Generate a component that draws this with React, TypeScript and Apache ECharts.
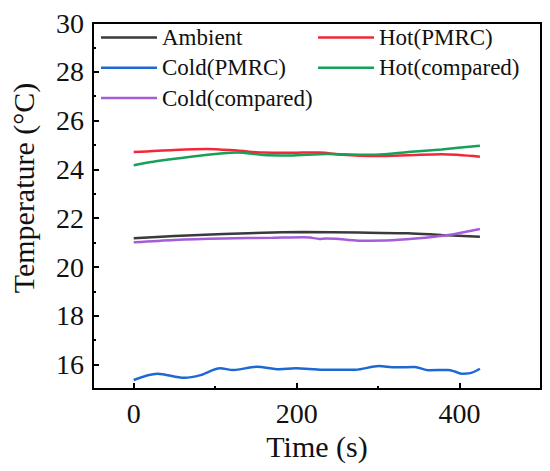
import React, { useEffect, useRef } from "react";
import * as echarts from "echarts";

const xMajorTicks = [0, 200, 400];
const xMinorTicks = [100, 300];
const yMajorTicks = [16, 18, 20, 22, 24, 26, 28, 30];
const yMinorTicks = [17, 19, 21, 23, 25, 27, 29];

const ambientT = [0, 50, 110, 171, 208, 276, 337, 378, 425];
const ambientV = [21.18, 21.27, 21.35, 21.41, 21.43, 21.41, 21.38, 21.31, 21.24];

const hotPmrcT = [0, 50, 90, 127, 159, 191, 208, 228, 256, 297, 337, 378, 425];
const hotPmrcV = [24.71, 24.8, 24.84, 24.77, 24.69, 24.68, 24.69, 24.69, 24.6, 24.55, 24.58, 24.62, 24.52];

const coldPmrcT = [0, 29, 62, 82, 106, 122, 151, 179, 199, 232, 272, 301, 321, 345, 362, 386, 394, 402, 413, 425];
const coldPmrcV = [15.37, 15.63, 15.46, 15.57, 15.85, 15.78, 15.91, 15.81, 15.85, 15.79, 15.79, 15.94, 15.89, 15.9, 15.77, 15.78, 15.72, 15.63, 15.65, 15.83];

const hotCompT = [0, 29, 70, 110, 127, 159, 191, 236, 297, 337, 378, 425];
const hotCompV = [24.17, 24.34, 24.52, 24.66, 24.69, 24.59, 24.57, 24.63, 24.6, 24.71, 24.82, 24.97];

const coldCompT = [0, 50, 110, 171, 208, 216, 228, 236, 248, 276, 317, 358, 386, 425];
const coldCompV = [21.01, 21.11, 21.17, 21.2, 21.22, 21.21, 21.15, 21.17, 21.16, 21.08, 21.1, 21.2, 21.31, 21.56];

const FONT = "Liberation Serif";

const zip = (t: number[], v: number[]) => t.map((x, i) => [x, v[i]]);

export default function App() {
  const ref = useRef<HTMLDivElement>(null);
  useEffect(() => {
    if (!ref.current) return;
    const chart = echarts.init(ref.current, undefined, { renderer: "svg" });
    const mkSeries = (name: string, t: number[], v: number[], color: string) => ({
      name,
      type: "line",
      data: zip(t, v),
      symbol: "none",
      smooth: 0.3,
      lineStyle: { color, width: 2.5 },
      itemStyle: { color },
      xAxisIndex: 0,
      yAxisIndex: 0,
    });
    const legendText = { fontFamily: FONT, fontSize: 23, color: "#111", lineHeight: 22 };
    chart.setOption({
      animation: false,
      backgroundColor: "#fff",
      textStyle: { fontFamily: FONT },
      grid: {
        left: 88,
        right: 9,
        top: 23,
        bottom: 82,
        show: true,
        borderColor: "#000",
        borderWidth: 2,
      },
      legend: [
        {
          left: 101,
          top: 26,
          padding: 0,
          orient: "vertical",
          icon: "rect",
          itemWidth: 56,
          itemHeight: 2.5,
          itemGap: 7.3,
          data: ["Ambient", "Cold(PMRC)", "Cold(compared)"],
          textStyle: legendText,
        },
        {
          left: 318,
          top: 26,
          padding: 0,
          orient: "vertical",
          icon: "rect",
          itemWidth: 56,
          itemHeight: 2.5,
          itemGap: 7.3,
          data: ["Hot(PMRC)", "Hot(compared)"],
          textStyle: legendText,
        },
      ],
      xAxis: [
        {
          type: "value",
          min: -50,
          max: 500,
          position: "bottom",
          name: "Time (s)",
          nameLocation: "middle",
          nameGap: 34,
          nameTextStyle: { fontFamily: FONT, fontSize: 30, color: "#111" },
          axisLine: { show: true, onZero: false, lineStyle: { color: "#000", width: 2 } },
          axisTick: { show: true, inside: true, length: 6, lineStyle: { color: "#000", width: 2 }, customValues: xMajorTicks },
          axisLabel: { show: true, margin: 10, fontFamily: FONT, fontSize: 28, color: "#111", customValues: xMajorTicks },
          splitLine: { show: false },
        },
        {
          type: "value",
          min: -50,
          max: 500,
          position: "bottom",
          axisLine: { show: false, onZero: false },
          axisTick: { show: true, inside: true, length: 3, lineStyle: { color: "#000", width: 2 }, customValues: xMinorTicks },
          axisLabel: { show: false },
          splitLine: { show: false },
        },
      ],
      yAxis: [
        {
          type: "value",
          min: 15,
          max: 30,
          position: "left",
          name: "Temperature (°C)",
          nameLocation: "middle",
          nameGap: 55,
          nameTextStyle: { fontFamily: FONT, fontSize: 30, color: "#111", padding: [0, 0, 0, 36] },
          axisLine: { show: true, onZero: false, lineStyle: { color: "#000", width: 2 } },
          axisTick: { show: true, inside: true, length: 6, lineStyle: { color: "#000", width: 2 }, customValues: yMajorTicks },
          axisLabel: { show: true, margin: 9, fontFamily: FONT, fontSize: 28, color: "#111", customValues: yMajorTicks },
          splitLine: { show: false },
        },
        {
          type: "value",
          min: 15,
          max: 30,
          position: "left",
          axisLine: { show: false, onZero: false },
          axisTick: { show: true, inside: true, length: 3, lineStyle: { color: "#000", width: 2 }, customValues: yMinorTicks },
          axisLabel: { show: false },
          splitLine: { show: false },
        },
      ],
      series: [
        mkSeries("Ambient", ambientT, ambientV, "#3a3a3a"),
        mkSeries("Hot(PMRC)", hotPmrcT, hotPmrcV, "#f2283a"),
        mkSeries("Cold(PMRC)", coldPmrcT, coldPmrcV, "#1c68d4"),
        mkSeries("Hot(compared)", hotCompT, hotCompV, "#17a05a"),
        mkSeries("Cold(compared)", coldCompT, coldCompV, "#a55cd8"),
      ],
    });
    return () => chart.dispose();
  }, []);
  return (
    <div
      ref={ref}
      style={{ position: "fixed", left: 0, top: 0, width: 550, height: 471, background: "#fff" }}
    />
  );
}
